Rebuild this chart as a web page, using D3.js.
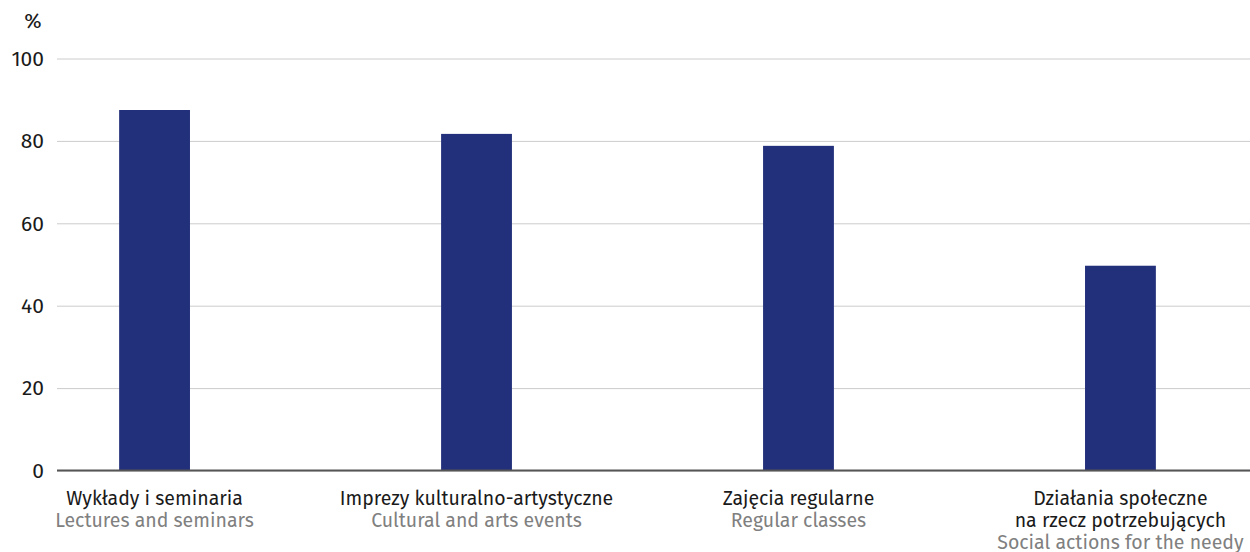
<!DOCTYPE html>
<html>
<head>
<meta charset="utf-8">
<script src="https://cdn.jsdelivr.net/npm/d3@7"></script>
<style>
  body { margin: 0; background: #fff; }
  svg text { font-family: "Fira Sans", "Open Sans", sans-serif; }
</style>
</head>
<body>
<svg width="1250" height="552"></svg>
<script>
// data
const categoriesPl = ["Wykłady i seminaria", "Imprezy kulturalno-artystyczne", "Zajęcia regularne", "Działania społeczne\nna rzecz potrzebujących"];
const categoriesEn = ["Lectures and seminars", "Cultural and arts events", "Regular classes", "Social actions for the needy"];
const values = [87.5, 81.7, 78.8, 49.7];
const yTicks = [0, 20, 40, 60, 80, 100];

let svg = d3.select("svg"),
    width = +svg.attr("width"),
    height = +svg.attr("height");

const plotLeft = 57, plotTop = 58.5, plotBottom = 470.5;

let y = d3.scaleLinear()
    .domain([0, 100])
    .range([plotBottom, plotTop]);

let x = d3.scaleBand()
    .domain(categoriesPl)
    .range([plotLeft, 1218])
    .paddingInner(0.78)
    .paddingOuter(0.193);

// grid + y ticks
let yAxis = svg.append("g")
    .attr("transform", `translate(${plotLeft},0)`)
    .call(d3.axisLeft(y).tickValues(yTicks).tickSize(-(width - plotLeft)).tickPadding(13));
yAxis.select(".domain").remove();
yAxis.selectAll(".tick line").attr("stroke", "#cccccc").attr("stroke-width", 1);
yAxis.selectAll(".tick text")
    .attr("fill", "#1a1a1a")
    .style("font-size", "21px");

svg.append("text")
    .attr("x", 33)
    .attr("y", 28)
    .attr("text-anchor", "middle")
    .attr("fill", "#1a1a1a")
    .style("font-size", "21px")
    .text("%");

// bars
svg.append("g")
    .selectAll("rect")
    .data(values)
    .enter()
    .append("rect")
    .attr("x", (d, i) => x(categoriesPl[i]))
    .attr("y", d => y(d))
    .attr("width", x.bandwidth())
    .attr("height", d => y(0) - y(d))
    .attr("fill", "#222f7a");

// baseline
svg.append("line")
    .attr("x1", plotLeft).attr("x2", width)
    .attr("y1", y(0)).attr("y2", y(0))
    .attr("stroke", "#555")
    .attr("stroke-width", 2);

// category labels
let labels = svg.append("g")
    .selectAll("text")
    .data(categoriesPl)
    .enter()
    .append("text")
    .attr("text-anchor", "middle")
    .attr("x", d => x(d) + x.bandwidth() / 2)
    .attr("y", 504.5)
    .style("font-size", "19.5px");

labels.each(function (d, i) {
    let t = d3.select(this);
    let lines = d.split("\n");
    lines.forEach((l, j) => {
        t.append("tspan")
            .attr("x", x(d) + x.bandwidth() / 2)
            .attr("dy", j === 0 ? 0 : 22)
            .attr("fill", "#1a1a1a")
            .text(l);
    });
    t.append("tspan")
        .attr("x", x(d) + x.bandwidth() / 2)
        .attr("dy", 22)
        .attr("fill", "#808080")
        .text(categoriesEn[i]);
});
</script>
</body>
</html>
